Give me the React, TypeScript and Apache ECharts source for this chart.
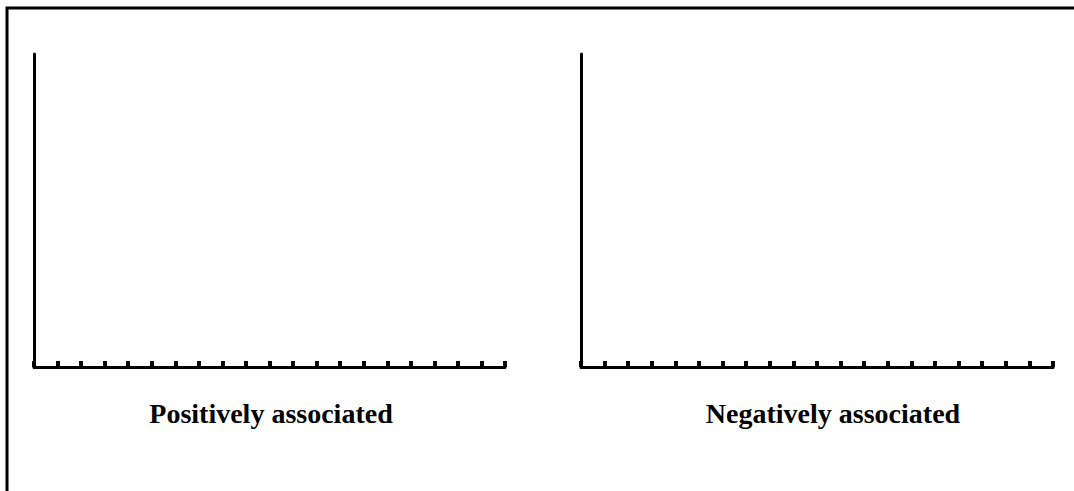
import React, { useEffect, useRef } from "react";
import * as echarts from "echarts";

const panelTitles = ["Positively associated", "Negatively associated"];
const xMin = 0;
const xMax = 20;
const xInterval = 1;
const yMin = 0;
const yMax = 10;
const positiveData: number[][] = [];
const negativeData: number[][] = [];

export default function App() {
  const ref = useRef<HTMLDivElement>(null);
  useEffect(() => {
    if (!ref.current) return;
    const chart = echarts.init(ref.current, null, { renderer: "svg" });
    const grids = [
      { left: 34, top: 54, width: 471, height: 313 },
      { left: 581, top: 54, width: 472, height: 313 },
    ];
    const xAxis = grids.map((_, i) => ({
      type: "value",
      gridIndex: i,
      min: xMin,
      max: xMax,
      interval: xInterval,
      axisLine: { show: true, lineStyle: { color: "#000", width: 3 } },
      axisTick: { show: true, inside: true, length: 6, lineStyle: { color: "#000", width: 4 } },
      axisLabel: { show: false },
      splitLine: { show: false },
    }));
    const yAxis = grids.map((_, i) => ({
      type: "value",
      gridIndex: i,
      min: yMin,
      max: yMax,
      axisLine: { show: true, lineStyle: { color: "#000", width: 3 } },
      axisTick: { show: false },
      axisLabel: { show: false },
      splitLine: { show: false },
    }));
    const titleCenters = [266, 828];
    chart.setOption({
      animation: false,
      backgroundColor: "#fff",
      grid: grids,
      xAxis,
      yAxis,
      title: panelTitles.map((t, i) => ({
        text: t,
        left: titleCenters[i],
        top: 394,
        textAlign: "center",
        textStyle: {
          fontFamily: "'Liberation Serif', 'Times New Roman', serif",
          fontWeight: "bold",
          fontSize: 28,
          color: "#000",
        },
      })),
      graphic: [
        {
          type: "rect",
          shape: { x: 7, y: 8, width: 1200, height: 700 },
          style: { fill: "none", stroke: "#000", lineWidth: 3 },
          silent: true,
        },
      ],
      series: [
        { type: "scatter", xAxisIndex: 0, yAxisIndex: 0, data: positiveData },
        { type: "scatter", xAxisIndex: 1, yAxisIndex: 1, data: negativeData },
      ],
    });
    return () => chart.dispose();
  }, []);
  return (
    <div
      ref={ref}
      style={{ position: "fixed", left: 0, top: 0, width: 1074, height: 491 }}
    />
  );
}
